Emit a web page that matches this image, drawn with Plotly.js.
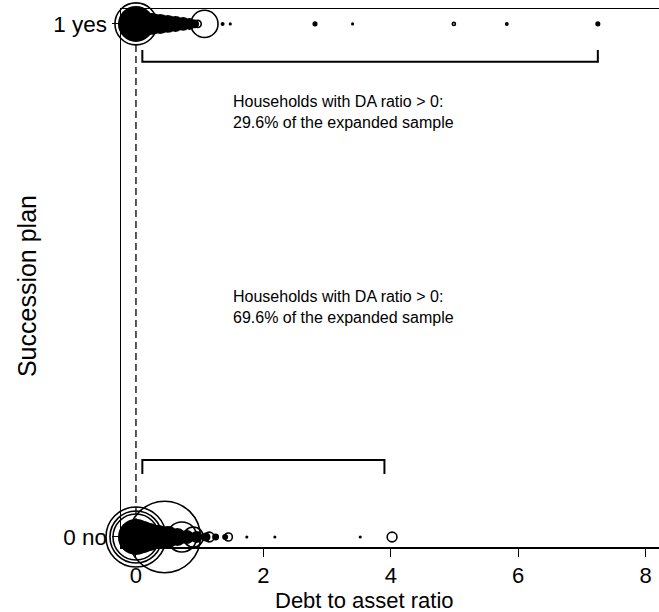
<!DOCTYPE html>
<html>
<head>
<meta charset="utf-8">
<script src="https://cdn.plot.ly/plotly-3.0.1.min.js"></script>
<style>html,body{margin:0;padding:0;background:#fff;}#chart{width:659px;height:612px;}</style>
</head>
<body>
<div id="chart"></div>
<script>
// ---- data ----
const yTickVals = [0, 1];
const yTickText = ["0 no", "1 yes"];
const xTickVals = [0, 2, 4, 6, 8];
const xTitle = "Debt to asset ratio";
const yTitle = "Succession plan";

// Succession plan = 1 (yes): debt-to-asset ratio and sampling weight
const yesDenseX = [0, 0.12, 0.25, 0.38, 0.5, 0.62, 0.74, 0.84, 0.92, 1.36, 1.48, 2.81, 3.40, 5.82, 7.25];
const yesDenseW = [81, 42, 30, 25, 20, 16, 12, 9, 5, 1, 0.6, 1.6, 0.6, 1, 1.6];
const yesRingX = [0, 1.075, 0.97, 4.99];
const yesRingW = [110, 46, 3, 0.6];

// Succession plan = 0 (no)
const noDenseX = [0, 0.1, 0.2, 0.35, 0.5, 0.65, 0.8, 0.95, 1.1, 1.25, 1.4, 1.74, 2.18, 3.52];
const noDenseW = [81, 64, 49, 36, 30, 20, 12, 9, 5, 3, 2.2, 0.6, 0.6, 0.6];
const noRingX = [0, 0, 0, 0.45, 0.72, 0.9, 1.15, 1.45, 4.02];
const noRingW = [132, 169, 225, 320, 56, 25, 6, 4, 6];

// share of households with DA ratio > 0
const shareText = ["69.6%", "29.6%"];
const bracketStart = [0.1, 0.1];
const bracketEnd = [3.9, 7.25];

// ---- drawing ----
const sz = w => w.map(v => Math.sqrt(v) * 4);
function fill(x, w, yv) {
  return {x: x, y: x.map(() => yv), type: 'scatter', mode: 'markers', cliponaxis: false,
    hoverinfo: 'skip',
    marker: {symbol: 'circle', size: sz(w), color: '#000', opacity: 1, line: {width: 0}}};
}
function ring(x, w, yv) {
  return {x: x, y: x.map(() => yv), type: 'scatter', mode: 'markers', cliponaxis: false,
    hoverinfo: 'skip',
    marker: {symbol: 'circle-open', size: sz(w), color: '#000', opacity: 1, line: {width: 1.6, color: '#000'}}};
}
const data = [
  fill(noDenseX, noDenseW, 0), ring(noRingX, noRingW, 0),
  fill(yesDenseX, yesDenseW, 1), ring(yesRingX, yesRingW, 1)
];

const font = {family: 'Liberation Sans, Arial, sans-serif', color: '#000'};
const bracketY = [[0.150, 0.123], [0.926, 0.949]];
const shapes = [
  {type: 'line', xref: 'x', yref: 'paper', x0: 0, x1: 0, y0: 0, y1: 1,
   line: {color: '#000', width: 1.3, dash: '7px,4px'}, layer: 'below'}
];
for (let i = 0; i < 2; i++) {
  const yh = bracketY[i][0], yt = bracketY[i][1];
  shapes.push({type: 'path', xref: 'x', yref: 'y',
    path: `M ${bracketStart[i]},${yt} L ${bracketStart[i]},${yh} L ${bracketEnd[i]},${yh} L ${bracketEnd[i]},${yt}`,
    line: {color: '#000', width: 2}});
}
const textY = [0.489, 0.869];
const annotations = [0, 1].map(i => ({
  xref: 'x', yref: 'y', x: 1.49, y: textY[i], xanchor: 'left', yanchor: 'top', align: 'left',
  showarrow: false,
  text: 'Households with DA ratio > 0:<br>' + shareText[i] + ' of the expanded sample',
  font: Object.assign({}, font, {size: 16})
}));
annotations.push({xref: 'paper', yref: 'paper', x: 0.4517, y: -0.1, xanchor: 'center', yanchor: 'middle',
  showarrow: false, text: xTitle, font: Object.assign({}, font, {size: 22})});
annotations.push({xref: 'paper', yref: 'paper', x: -0.1747, y: 0.485, xanchor: 'center', yanchor: 'middle',
  showarrow: false, textangle: -90, text: yTitle, font: Object.assign({}, font, {size: 25})});

const layout = {
  width: 659, height: 612,
  margin: {l: 121, r: 0, t: 9, b: 65},
  paper_bgcolor: '#fff', plot_bgcolor: '#fff',
  showlegend: false,
  font: font,
  xaxis: {
    range: [-0.235, 8.21], tickvals: xTickVals, ticks: 'outside', ticklen: 8, tickwidth: 1,
    tickcolor: '#000', showline: true, linecolor: '#000', linewidth: 1.5, mirror: true,
    showgrid: false, zeroline: false, tickfont: Object.assign({}, font, {size: 22}),
    automargin: false
  },
  yaxis: {
    range: [-0.0195, 1.029], tickvals: yTickVals, ticktext: yTickText, ticks: 'outside',
    ticklen: 8, tickwidth: 1, tickcolor: '#000', showline: true, linecolor: '#000', linewidth: 1.5,
    showgrid: false, zeroline: false, tickfont: Object.assign({}, font, {size: 22.5}),
    automargin: false
  },
  shapes: shapes,
  annotations: annotations
};
Plotly.newPlot('chart', data, layout, {displayModeBar: false, staticPlot: true});
</script>
</body>
</html>
